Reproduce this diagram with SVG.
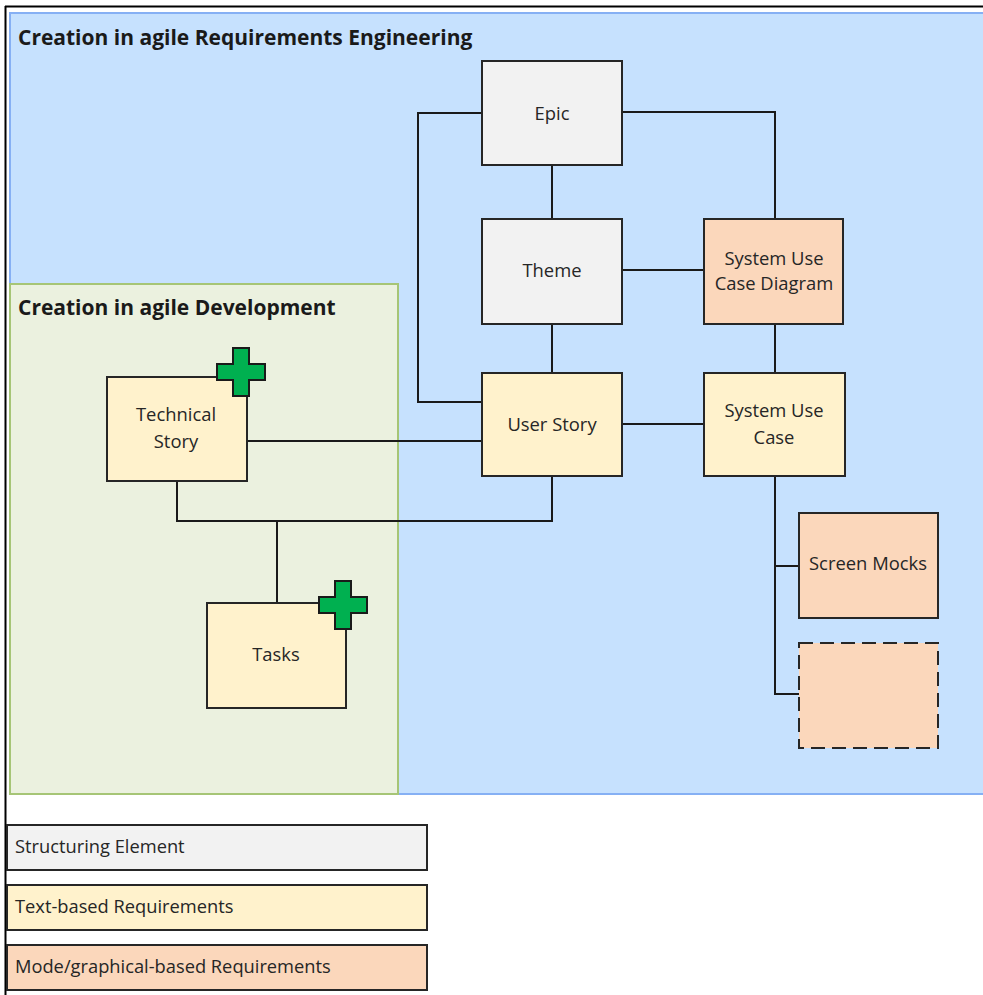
<svg xmlns="http://www.w3.org/2000/svg" width="983" height="995" viewBox="0 0 983 995">
  <style>
    .node { stroke: #262626; stroke-width: 2; }
    .struct { fill: #f2f2f2; }
    .textreq { fill: #fff2cc; }
    .modelreq { fill: #fbd7bb; }
    .lbl { font-family: "Open Sans", "Noto Sans", sans-serif; font-size: 18.4px; fill: #262626; text-anchor: middle; }
    .legend { font-family: "Open Sans", "Noto Sans", sans-serif; font-size: 18.3px; fill: #262626; }
    .title { font-family: "Open Sans", "Noto Sans", sans-serif; font-size: 21px; font-weight: bold; fill: #1a1a1a; }
    .conn { fill: none; stroke: #1a1a1a; stroke-width: 2; }
    .plus { fill: #00b050; stroke: #1a1a1a; stroke-width: 2; }
  </style>
  <defs>
    <!-- green plus marker, centred on the origin -->
    <polygon id="plus" class="plus" points="-8,-24 8,-24 8,-8 24,-8 24,8 8,8 8,24 -8,24 -8,8 -24,8 -24,-8 -8,-8"/>
  </defs>

  <rect width="983" height="995" fill="#ffffff"/>

  <!-- outer frame lines -->
  <line x1="5" y1="6.5" x2="983" y2="6.5" stroke="#000" stroke-width="2"/>
  <line x1="5.5" y1="6" x2="5.5" y2="995" stroke="#000" stroke-width="2"/>

  <!-- swimlane areas -->
  <g id="area-re">
    <rect x="10" y="13" width="980" height="781" fill="#c6e1fe" stroke="#86b0f4" stroke-width="2"/>
    <text class="title" x="18" y="45">Creation in agile Requirements Engineering</text>
  </g>
  <g id="area-dev">
    <rect x="10" y="284" width="388" height="510" fill="#ebf1df" stroke="#a6c576" stroke-width="2"/>
    <text class="title" x="18" y="315">Creation in agile Development</text>
  </g>

  <!-- connectors -->
  <g id="connectors">
    <polyline class="conn" points="482,113 418,113 418,402 482,402"/>
    <polyline class="conn" points="622,112 775,112 775,219"/>
    <line class="conn" x1="552" y1="165" x2="552" y2="219"/>
    <line class="conn" x1="622" y1="270" x2="704" y2="270"/>
    <line class="conn" x1="552" y1="324" x2="552" y2="373"/>
    <line class="conn" x1="775" y1="324" x2="775" y2="373"/>
    <line class="conn" x1="622" y1="424" x2="704" y2="424"/>
    <line class="conn" x1="247" y1="441" x2="482" y2="441"/>
    <polyline class="conn" points="552,476 552,521 177,521 177,481"/>
    <line class="conn" x1="277" y1="521" x2="277" y2="603"/>
    <polyline class="conn" points="775,476 775,694 799,694"/>
    <line class="conn" x1="775" y1="566" x2="799" y2="566"/>
  </g>

  <!-- nodes -->
  <g id="epic">
    <rect class="node struct" x="482" y="61" width="140" height="104"/>
    <text class="lbl" x="552" y="120">Epic</text>
  </g>
  <g id="theme">
    <rect class="node struct" x="482" y="219" width="140" height="105"/>
    <text class="lbl" x="552" y="277">Theme</text>
  </g>
  <g id="system-use-case-diagram">
    <rect class="node modelreq" x="704" y="219" width="139" height="105"/>
    <text class="lbl" x="774" y="265">System Use</text>
    <text class="lbl" x="774" y="290">Case Diagram</text>
  </g>
  <g id="user-story">
    <rect class="node textreq" x="482" y="373" width="140" height="103"/>
    <text class="lbl" x="552" y="431">User Story</text>
  </g>
  <g id="system-use-case">
    <rect class="node textreq" x="704" y="373" width="141" height="103"/>
    <text class="lbl" x="774" y="417">System Use</text>
    <text class="lbl" x="774" y="444">Case</text>
  </g>
  <g id="technical-story">
    <rect class="node textreq" x="107" y="377" width="140" height="104"/>
    <text class="lbl" x="176" y="421">Technical</text>
    <text class="lbl" x="176" y="448">Story</text>
    <use href="#plus" x="241" y="372"/>
  </g>
  <g id="tasks">
    <rect class="node textreq" x="207" y="603" width="139" height="105"/>
    <text class="lbl" x="276" y="661">Tasks</text>
    <use href="#plus" x="343" y="605"/>
  </g>
  <g id="screen-mocks">
    <rect class="node modelreq" x="799" y="513" width="139" height="105"/>
    <text class="lbl" x="868" y="570">Screen Mocks</text>
  </g>
  <g id="further-model">
    <rect class="node modelreq" x="799" y="643" width="139" height="105" stroke-dasharray="14,7"/>
  </g>

  <!-- legend -->
  <g id="legend-structuring">
    <rect class="node struct" x="7" y="825" width="420" height="45"/>
    <text class="legend" x="15" y="853">Structuring Element</text>
  </g>
  <g id="legend-text">
    <rect class="node textreq" x="7" y="885" width="420" height="45"/>
    <text class="legend" x="15" y="913">Text-based Requirements</text>
  </g>
  <g id="legend-model">
    <rect class="node modelreq" x="7" y="945" width="420" height="45"/>
    <text class="legend" x="15" y="973">Mode/graphical-based Requirements</text>
  </g>
</svg>
